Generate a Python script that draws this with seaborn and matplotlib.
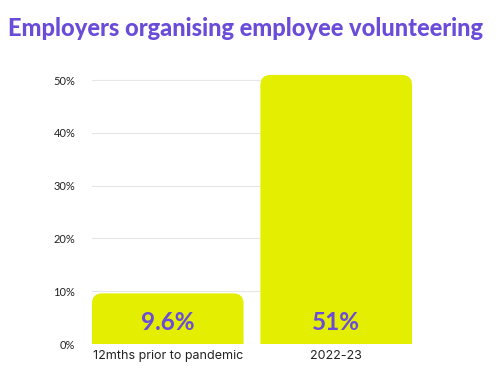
import matplotlib
matplotlib.use("Agg")
import matplotlib.pyplot as plt
import seaborn as sns
import pandas as pd
from matplotlib.patches import FancyBboxPatch

# data
categories = ["12mths prior to pandemic", "2022-23"]
values = [9.6, 51]
value_labels = ["9.6%", "51%"]
yticks = [0, 10, 20, 30, 40, 50]

purple = "#6A4CD9"
yellow = "#E3EE00"

sns.set_style("white")
plt.rcParams['font.family'] = ['Lato', 'DejaVu Sans']

df = pd.DataFrame({"period": categories, "pct": values})

fig = plt.figure(figsize=(4.97, 3.8), dpi=100)
ax = fig.add_axes([0.185, 0.0947, 0.644, 0.722])

sns.barplot(data=df, x="period", y="pct", color=yellow, width=0.9, ax=ax,
            saturation=1)

ax.set_xlim(-0.45, 1.45)
ax.set_ylim(0, 52)

# swap plain bars for ones with rounded top corners
bbox = ax.get_window_extent()
aspect = (52 / bbox.height) / (1.9 / bbox.width)
for p in list(ax.patches):
    x, w, h = p.get_x(), p.get_width(), p.get_height()
    p.set_visible(False)
    r = FancyBboxPatch((x, -3), w, h + 3,
                       boxstyle="round,pad=0,rounding_size=0.06",
                       mutation_aspect=aspect, facecolor=yellow,
                       edgecolor="none", zorder=2)
    ax.add_patch(r)

for i, (v, lab) in enumerate(zip(values, value_labels)):
    ax.text(i, 4.0, lab, ha="center", va="center", color=purple,
            fontsize=17.5, fontweight="bold", zorder=3)

ax.set_yticks(yticks)
ax.set_yticklabels([f"{t}%" for t in yticks], fontsize=8, color="#222222")
ax.yaxis.grid(True, color="#E6E6E6", linewidth=0.8, zorder=0)
ax.set_axisbelow(True)
ax.tick_params(axis="y", length=0, pad=12)
ax.tick_params(axis="x", length=0, pad=4)
for lab in ax.get_xticklabels():
    lab.set_fontfamily(['Inter', 'DejaVu Sans'])
    lab.set_fontsize(9)
    lab.set_color("#222222")
ax.set_xlabel("")
ax.set_ylabel("")
sns.despine(ax=ax, left=True, bottom=True)

fig.text(0.016, 0.926, "Employers organising employee volunteering",
         fontsize=17, fontweight="black", color=purple, va="center", ha="left")

fig.savefig("out.png", dpi=100)
